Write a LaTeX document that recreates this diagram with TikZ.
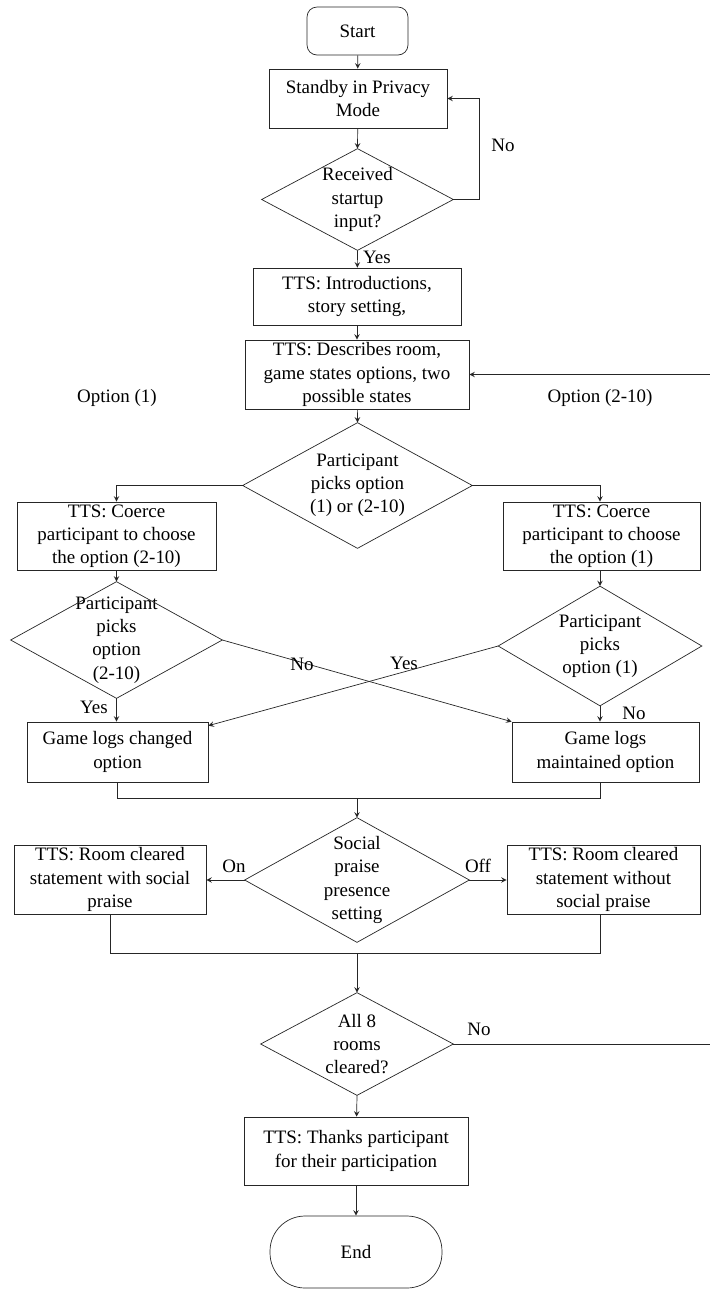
\documentclass[tikz,border=0pt]{standalone}
\usepackage{fontspec}
\setmainfont{Liberation Serif}
\usetikzlibrary{calc}
\tikzset{>=stealth}
\tikzset{
  box/.style={draw, align=center, inner sep=1pt},
  dec/.style={align=center, inner sep=0pt},
  term/.style={draw, align=center},
  lbl/.style={inner sep=1pt},
  arr/.style={->}
}
\newcommand{\decision}[1]{\draw (#1.north) -- (#1.east) -- (#1.south) -- (#1.west) -- cycle;}

\begin{document}
\begin{tikzpicture}[x=0.02cm, y=-0.02cm, font=\fontsize{10.8}{13.2}\selectfont, draw=black!85]
\useasboundingbox (0,0) rectangle (710,1289);
\node (start) at (357.5,31) [term, rounded corners=0.2cm, minimum width=2.02cm, minimum height=0.96cm] {Start};
\node (standby) at (358,98.5) [box, minimum width=3.56cm, minimum height=1.18cm] {Standby in Privacy\\Mode};
\node (recv) at (357.5,199.5) [dec, minimum width=3.82cm, minimum height=2.02cm] {Received\\startup\\input?};
\decision{recv}
\node (intro) at (357,296.5) [box, minimum width=4.16cm, minimum height=1.14cm] {TTS: Introductions,\\story setting,};
\node (describe) at (357,374.5) [box, minimum width=4.48cm, minimum height=1.38cm] {TTS: Describes room,\\game states options, two\\possible states};
\node (pick) at (357.5,485.5) [dec, minimum width=4.58cm, minimum height=2.5cm] {Participant\\picks option\\(1) or (2-10)};
\decision{pick}
\node (coerceL) at (116.5,536) [box, minimum width=3.98cm, minimum height=1.36cm] {TTS: Coerce\\participant to choose\\the option (2-10)};
\node (coerceR) at (601.5,536) [box, minimum width=3.94cm, minimum height=1.36cm] {TTS: Coerce\\participant to choose\\the option (1)};
\node (pickL) at (116.5,640) [dec, minimum width=4.22cm, minimum height=2.32cm] {Participant\\picks\\option\\(2-10)};
\decision{pickL}
\node (pickR) at (600,646) [dec, minimum width=4.06cm, minimum height=2.38cm] {Participant\\picks\\option (1)};
\decision{pickR}
\node (changed) at (117.5,752) [box, minimum width=3.62cm, minimum height=1.2cm] {Game logs changed\\option};
\node (maint) at (605.5,752) [box, minimum width=3.74cm, minimum height=1.2cm] {Game logs\\maintained option};
\node (social) at (357,880) [dec, minimum width=4.48cm, minimum height=2.48cm] {Social\\praise\\presence\\setting};
\decision{social}
\node (roomL) at (110,879.5) [box, minimum width=3.84cm, minimum height=1.38cm] {TTS: Room cleared\\statement with social\\praise};
\node (roomR) at (603.5,879.5) [box, minimum width=3.86cm, minimum height=1.38cm] {TTS: Room cleared\\statement without\\social praise};
\node (all8) at (357,1044) [dec, minimum width=3.84cm, minimum height=2.04cm] {All 8\\rooms\\cleared?};
\decision{all8}
\node (thanks) at (356,1151) [box, minimum width=4.48cm, minimum height=1.36cm] {TTS: Thanks participant\\for their participation};
\node (end) at (356,1252) [term, rounded corners=0.7cm, minimum width=3.44cm, minimum height=1.44cm] {End};

\coordinate (join1) at (357,798);
\coordinate (join2) at (357,953);
\coordinate (back) at (712,1044);

\draw [arr] (start) -- (standby);
\draw [arr] (standby) -- (recv.north);
\draw [arr] (recv.east) -- ++(26,0) |- (standby.east);
\draw [arr] (recv.south) -- (intro);
\draw [arr] (intro) -- (describe);
\draw [arr] (describe) -- (pick.north);
\draw [arr] (pick.west) -| (coerceL.north);
\draw [arr] (pick.east) -| (pickR.north |- coerceR.north);
\draw [arr] (coerceL.south -| pickL.north) -- (pickL.north);
\draw [arr] (coerceR.south -| pickR.north) -- (pickR.north);
\draw [arr] (pickL.south) -- (pickL.south |- changed.north);
\draw [arr] (pickR.south) -- (pickR.south |- maint.north);
\draw [arr] (pickL.east) -- (maint.north west);
\draw [arr] (pickR.west) -- ([yshift=-0.08cm]changed.north east);
\draw (changed.south) |- (join1) -| (pickR.south |- maint.south);
\draw [arr] (join1) -- (social.north);
\draw [arr] (social.west) -- (social.west -| roomL.east);
\draw [arr] (social.east) -- (social.east -| roomR.west);
\draw (roomL.south) |- (join2) -| (pickR.south |- roomR.south);
\draw [arr] (join2) -- (all8.north);
\draw [arr] (all8.east) -- (back) |- (describe.east);
\draw [arr] (all8.south) -- (thanks);
\draw [arr] (thanks) -- (end);

\node (noA) at (503,145) [lbl] {No};
\node (yesA) at (377,257) [lbl] {Yes};
\node (opt1) at (117,398) [lbl] {Option (1)};
\node (opt2) at (600,398) [lbl] {Option (2-10)};
\node (yesL) at (94,707) [lbl] {Yes};
\node (noL) at (302,664) [lbl] {No};
\node (yesR) at (404,663) [lbl] {Yes};
\node (noR) at (634,713) [lbl] {No};
\node (on) at (234,866) [lbl] {On};
\node (off) at (478,866) [lbl] {Off};
\node (noB) at (479,1029) [lbl] {No};
\end{tikzpicture}
\end{document}
